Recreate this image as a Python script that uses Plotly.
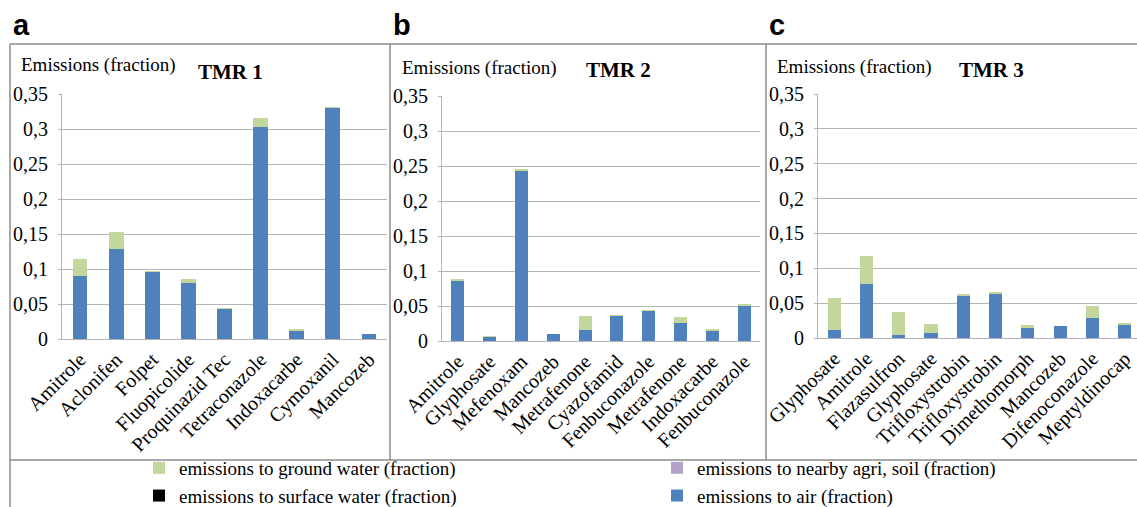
import plotly.graph_objects as go

# ---------------- data ----------------
cats_a = ["Amitrole", "Aclonifen", "Folpet", "Fluopicolide", "Proquinazid Tec",
          "Tetraconazole", "Indoxacarbe", "Cymoxanil", "Mancozeb"]
air_a = [0.090, 0.128, 0.096, 0.080, 0.043, 0.303, 0.012, 0.330, 0.007]
gw_a = [0.024, 0.025, 0.001, 0.006, 0.001, 0.013, 0.001, 0.001, 0.000]
sw_a = [0, 0, 0, 0, 0, 0, 0, 0, 0]
soil_a = [0, 0, 0, 0, 0, 0, 0, 0, 0]

cats_b = ["Amitrole", "Glyphosate", "Mefenoxam", "Mancozeb", "Metrafenone",
          "Cyazofamid", "Fenbuconazole", "Metrafenone", "Indoxacarbe", "Fenbuconazole"]
air_b = [0.087, 0.006, 0.244, 0.010, 0.016, 0.036, 0.043, 0.026, 0.015, 0.051]
gw_b = [0.001, 0.001, 0.001, 0.000, 0.020, 0.001, 0.001, 0.009, 0.001, 0.001]
sw_b = [0, 0, 0, 0, 0, 0, 0, 0, 0, 0]
soil_b = [0, 0, 0, 0, 0, 0, 0, 0, 0, 0]

cats_c = ["Glyphosate", "Amitrole", "Flazasulfron", "Glyphosate", "Trifloxystrobin",
          "Trifloxystrobin", "Dimethomorph", "Mancozeb", "Difenoconazole", "Meptyldinocap"]
air_c = [0.012, 0.077, 0.005, 0.007, 0.061, 0.064, 0.014, 0.017, 0.028, 0.020]
gw_c = [0.046, 0.040, 0.032, 0.013, 0.001, 0.001, 0.004, 0.000, 0.018, 0.001]
sw_c = [0, 0, 0, 0, 0, 0, 0, 0, 0, 0]
soil_c = [0, 0, 0, 0, 0, 0, 0, 0, 0, 0]

panel_letters = ["a", "b", "c"]
panel_titles = ["TMR 1", "TMR 2", "TMR 3"]
y_title = "Emissions (fraction)"
y_tickvals = [0, 0.05, 0.1, 0.15, 0.2, 0.25, 0.3, 0.35]
y_ticktext = ["0", "0,05", "0,1", "0,15", "0,2", "0,25", "0,3", "0,35"]

series_names = {
    "gw": "emissions to ground water (fraction)",
    "soil": "emissions to nearby agri, soil (fraction)",
    "sw": "emissions to surface water (fraction)",
    "air": "emissions to air (fraction)",
}
colors = {"air": "#4F81BD", "sw": "#000000", "soil": "#B3A2C7", "gw": "#C3D69B"}
ranks = {"gw": 1, "sw": 2, "soil": 1, "air": 2}
legend_of = {"gw": "legend", "sw": "legend", "soil": "legend2", "air": "legend2"}

# ---------------- figure ----------------
W, H = 1137, 507
SERIF = "Liberation Serif"
SANS = "Liberation Sans"
GRID = "#B4B4B4"
BORDER = "#8C8C8C"


def px(x):
    return x / W


def py(y):
    return 1 - y / H


panels = [
    dict(cats=cats_a, air=air_a, gw=gw_a, sw=sw_a, soil=soil_a,
         xdom=[px(62), px(387)], ydom=[py(339), py(94)], xr=None),
    dict(cats=cats_b, air=air_b, gw=gw_b, sw=sw_b, soil=soil_b,
         xdom=[px(442), px(760)], ydom=[py(341), py(96)], xr=None),
    dict(cats=cats_c, air=air_c, gw=gw_c, sw=sw_c, soil=soil_c,
         xdom=[px(818), 1.0], ydom=[py(338), py(94)], xr=[-0.5, 9.38]),
]

fig = go.Figure()
layout = {}
for i, p in enumerate(panels):
    n = len(p["cats"])
    xs = list(range(n))
    sfx = "" if i == 0 else str(i + 1)
    for key in ["air", "sw", "soil", "gw"]:
        fig.add_trace(go.Bar(
            x=xs, y=p[key], name=series_names[key],
            marker=dict(color=colors[key], line=dict(width=0)),
            xaxis="x" + sfx, yaxis="y" + sfx,
            legend=legend_of[key],
            legendgroup=key, showlegend=(i == 0), legendrank=ranks[key],
        ))
    layout["xaxis" + sfx] = dict(
        domain=p["xdom"], anchor="y" + sfx,
        range=p["xr"] if p["xr"] else [-0.5, n - 0.5],
        tickmode="array", tickvals=xs, ticktext=p["cats"], tickangle=-45,
        tickfont=dict(family=SERIF, size=20, color="black"),
        showline=True, linecolor=GRID, linewidth=1, showgrid=False,
        ticks="", zeroline=False, fixedrange=True,
    )
    layout["yaxis" + sfx] = dict(
        domain=p["ydom"], anchor="x" + sfx, range=[0, 0.35],
        tickmode="array", tickvals=y_tickvals, ticktext=y_ticktext,
        tickfont=dict(family=SERIF, size=20, color="black"),
        showline=True, linecolor=GRID, linewidth=1,
        showgrid=True, gridcolor=GRID, gridwidth=1,
        zeroline=False, ticks="outside", ticklen=3, tickcolor=GRID, tickwidth=1,
        ticklabelstandoff=6, fixedrange=True,
    )

# panel borders
shapes = []
line = dict(color=BORDER, width=1.5)
shapes.append(dict(type="line", xref="paper", yref="paper", x0=px(10), x1=1, y0=py(44), y1=py(44), line=line))
shapes.append(dict(type="line", xref="paper", yref="paper", x0=px(10), x1=1, y0=py(460), y1=py(460), line=line))
shapes.append(dict(type="line", xref="paper", yref="paper", x0=px(10), x1=px(10), y0=py(44), y1=0, line=line))
shapes.append(dict(type="line", xref="paper", yref="paper", x0=px(390), x1=px(390), y0=py(44), y1=py(460), line=line))
shapes.append(dict(type="line", xref="paper", yref="paper", x0=px(766), x1=px(766), y0=py(44), y1=py(460), line=line))

annotations = []
letter_x = [11, 391, 767]
ytitle_x = [19, 400, 775]
ytitle_y = [65, 68, 67]
title_x = [230, 618, 991]
title_y = [72, 70, 70]
for i in range(3):
    annotations.append(dict(text="<b>%s</b>" % panel_letters[i], xref="paper", yref="paper",
                            x=px(letter_x[i]), y=py(25), xanchor="left", yanchor="middle",
                            showarrow=False, font=dict(family=SANS, size=29, color="black")))
    annotations.append(dict(text=y_title, xref="paper", yref="paper",
                            x=px(ytitle_x[i]), y=py(ytitle_y[i]), xanchor="left", yanchor="middle",
                            showarrow=False, font=dict(family=SERIF, size=19, color="black")))
    annotations.append(dict(text="<b>%s</b>" % panel_titles[i], xref="paper", yref="paper",
                            x=px(title_x[i]), y=py(title_y[i]), xanchor="center", yanchor="middle",
                            showarrow=False, font=dict(family=SERIF, size=21, color="black")))

legend_common = dict(orientation="v", yanchor="top", xanchor="left", traceorder="normal",
                     font=dict(family=SERIF, size=19, color="black"), tracegroupgap=0,
                     bgcolor="rgba(0,0,0,0)", itemclick=False, itemdoubleclick=False)

fig.update_layout(
    width=W, height=H,
    margin=dict(l=0, r=0, t=0, b=0, pad=0, autoexpand=False),
    paper_bgcolor="white", plot_bgcolor="white",
    barmode="stack", bargap=0.59,
    showlegend=True,
    legend=dict(x=px(139), y=py(449), **legend_common),
    legend2=dict(x=px(657), y=py(449), **legend_common),
    shapes=shapes, annotations=annotations,
    **layout,
)

fig.write_html("out.html", config={"displayModeBar": False},
               post_script="document.body.style.margin='0px';")
